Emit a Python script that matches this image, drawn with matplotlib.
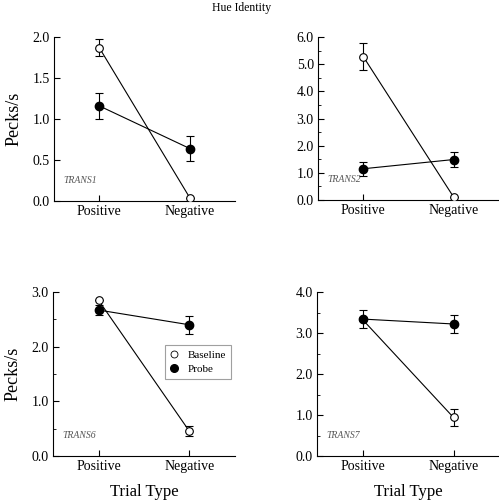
import matplotlib
matplotlib.use("Agg")
import matplotlib.pyplot as plt
from matplotlib.lines import Line2D
from matplotlib.ticker import MultipleLocator

plt.rcParams["font.family"] = ["Liberation Serif", "DejaVu Serif"]

# -- Data ----------------------------------------------------------------------
trial_types = ["Positive", "Negative"]
panels      = ["TRANS1", "TRANS2", "TRANS6", "TRANS7"]

baseline     = [[1.87, 0.04], [5.28, 0.10], [2.85, 0.45], [3.33, 0.94]]
baseline_err = [[0.10, 0.00], [0.50, 0.00], [0.00, 0.09], [0.00, 0.21]]
probe        = [[1.16, 0.64], [1.15, 1.49], [2.67, 2.40], [3.34, 3.22]]
probe_err    = [[0.16, 0.15], [0.25, 0.28], [0.09, 0.17], [0.21, 0.21]]

y_max   = [2.0, 6.0, 3.0, 4.0]
y_major = [0.5, 1.0, 1.0, 1.0]
y_minor = [None, 0.5, 0.5, 0.5]

# -- Layout (pixel boxes: left, top, right, bottom) ----------------------------
W, H = 499, 501
boxes = [
    (54, 37, 235, 201),
    (318, 37, 499, 200),
    (53, 292, 235, 456),
    (317, 292, 499, 456),
]

fig = plt.figure(figsize=(W / 100, H / 100), dpi=100)
fig.text(241.5 / W, 1 - 2 / H, "Hue Identity", ha="center", va="top", fontsize=8.5)

x = [1, 2]
for i, (l, t, r, b) in enumerate(boxes):
    ax = fig.add_axes([l / W, 1 - b / H, (r - l) / W, (b - t) / H])
    ax.errorbar(x, baseline[i], yerr=baseline_err[i], color="black", lw=0.8,
                marker="o", ms=5.5, mfc="white", mec="black", mew=0.8,
                capsize=3, elinewidth=0.8, capthick=0.8, zorder=3)
    ax.errorbar(x, probe[i], yerr=probe_err[i], color="black", lw=0.8,
                marker="o", ms=6, mfc="black", mec="black",
                capsize=3, elinewidth=0.8, capthick=0.8, zorder=4)
    ax.set_xlim(0.5, 2.5)
    ax.set_xticks(x)
    ax.set_xticklabels(trial_types, fontsize=10)
    ax.yaxis.set_major_locator(MultipleLocator(y_major[i]))
    if y_minor[i]:
        ax.yaxis.set_minor_locator(MultipleLocator(y_minor[i]))
    ax.set_ylim(0, y_max[i])
    ax.yaxis.set_major_formatter(lambda v, pos: f"{v:.1f}")
    ax.tick_params(axis="y", labelsize=10)
    for s in ["top", "right"]:
        ax.spines[s].set_visible(False)
    for s in ["left", "bottom"]:
        ax.spines[s].set_linewidth(0.8)
    ax.tick_params(which="major", direction="in", length=4, width=0.8, pad=3)
    ax.tick_params(which="minor", direction="in", length=2.5, width=0.6)
    ax.text(0.05, 0.11, panels[i], transform=ax.transAxes, fontsize=7,
            style="italic", color="#555555")
    if i % 2 == 0:
        ax.set_ylabel("Pecks/s", fontsize=13, labelpad=7)
    if i >= 2:
        ax.set_xlabel("Trial Type", fontsize=12, labelpad=8)
    if i == 2:
        handles = [
            Line2D([], [], ls="none", marker="o", ms=5, mfc="white", mec="black", mew=0.6),
            Line2D([], [], ls="none", marker="o", ms=5.5, mfc="black", mec="black"),
        ]
        leg = ax.legend(handles, ["Baseline", "Probe"], loc="upper right",
                        bbox_to_anchor=(0.99, 0.69), fontsize=8, frameon=True,
                        fancybox=False, edgecolor="#888888", handlelength=0.8,
                        borderpad=0.45, handletextpad=0.8, labelspacing=0.35,
                        borderaxespad=0.2)
        leg.get_frame().set_linewidth(0.8)

fig.savefig("out.png", dpi=100)
